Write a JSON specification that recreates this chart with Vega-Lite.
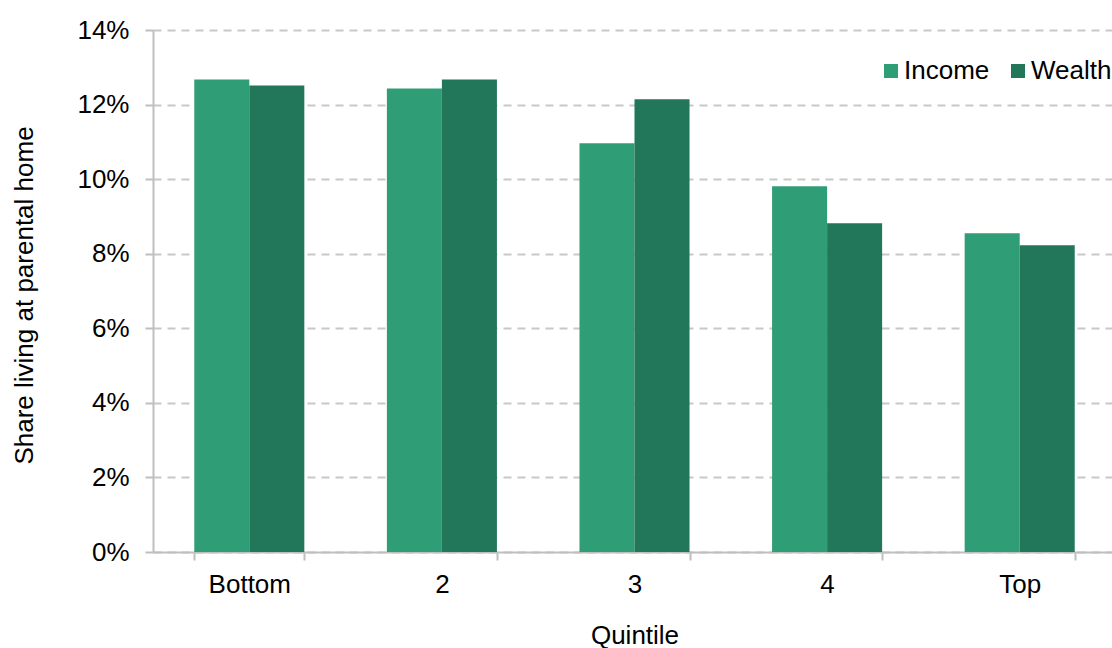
{
  "$schema": "https://vega.github.io/schema/vega-lite/v6.json",
  "width": 963,
  "height": 522,
  "autosize": {"type": "none"},
  "padding": {"left": 153, "top": 30, "right": 0, "bottom": 96},
  "background": "white",
  "config": {
    "view": {"stroke": null},
    "font": "Liberation Sans",
    "axis": {
      "labelFont": "Liberation Sans",
      "titleFont": "Liberation Sans",
      "labelFontSize": 26,
      "titleFontSize": 26,
      "labelColor": "#000000",
      "titleColor": "#000000",
      "titleFontWeight": "normal",
      "domainColor": "#BFBFBF",
      "domainWidth": 2,
      "tickColor": "#BFBFBF",
      "tickWidth": 2,
      "tickSize": 8
    },
    "legend": {
      "labelFont": "Liberation Sans",
      "labelFontSize": 26,
      "labelColor": "#000000"
    }
  },
  "data": {
    "values": [
      {"quintile": "Bottom", "measure": "Income", "share": 0.1267},
      {"quintile": "Bottom", "measure": "Wealth", "share": 0.1251},
      {"quintile": "2", "measure": "Income", "share": 0.1243},
      {"quintile": "2", "measure": "Wealth", "share": 0.1267},
      {"quintile": "3", "measure": "Income", "share": 0.1096},
      {"quintile": "3", "measure": "Wealth", "share": 0.1214},
      {"quintile": "4", "measure": "Income", "share": 0.0981},
      {"quintile": "4", "measure": "Wealth", "share": 0.0882},
      {"quintile": "Top", "measure": "Income", "share": 0.0855},
      {"quintile": "Top", "measure": "Wealth", "share": 0.0823}
    ]
  },
  "mark": {"type": "bar", "cornerRadius": 0},
  "encoding": {
    "x": {
      "field": "quintile",
      "type": "nominal",
      "sort": ["Bottom", "2", "3", "4", "Top"],
      "scale": {"paddingInner": 0.4286, "paddingOuter": 0.2143},
      "axis": {
        "title": "Quintile",
        "labelAngle": 0,
        "tickBand": "extent",
        "labelPadding": 11,
        "titleBaseline": "alphabetic",
        "titleY": 91,
        "titlePadding": 0
      }
    },
    "xOffset": {
      "field": "measure",
      "type": "nominal",
      "sort": ["Income", "Wealth"],
      "scale": {"paddingInner": 0, "paddingOuter": 0}
    },
    "y": {
      "field": "share",
      "type": "quantitative",
      "scale": {"domain": [0, 0.14], "nice": false},
      "axis": {
        "title": "Share living at parental home",
        "format": ".0%",
        "values": [0, 0.02, 0.04, 0.06, 0.08, 0.1, 0.12, 0.14],
        "labelPadding": 16,
        "grid": true,
        "gridColor": "#C8C8C8",
        "gridWidth": 2,
        "gridDash": [8, 6],
        "titleAngle": -90,
        "titleBaseline": "alphabetic",
        "titleAlign": "center",
        "titleX": -121,
        "titleY": 265
      }
    },
    "color": {
      "field": "measure",
      "type": "nominal",
      "sort": ["Income", "Wealth"],
      "scale": {"range": ["#2F9E76", "#227659"]},
      "legend": {
        "title": null,
        "orient": "none",
        "direction": "horizontal",
        "legendX": 725,
        "legendY": 28,
        "padding": 0,
        "symbolType": "square",
        "symbolSize": 196,
        "symbolStrokeWidth": 0,
        "symbolOpacity": 1,
        "labelOffset": 0,
        "columnPadding": 15
      }
    }
  }
}
